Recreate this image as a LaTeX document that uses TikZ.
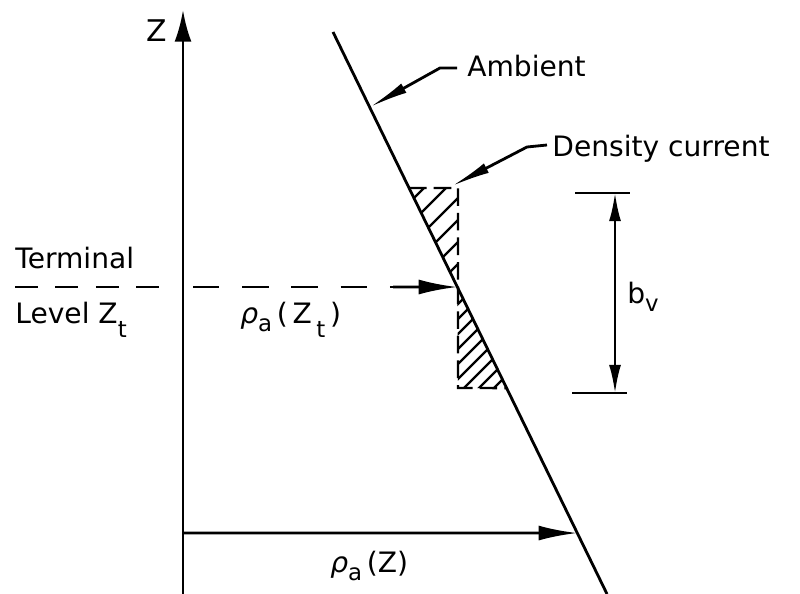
\documentclass[tikz,border=0pt]{standalone}
\usepackage{fontspec}
\setmainfont{DejaVu Sans}
\usepackage{tikz}
\usetikzlibrary{arrows.meta,calc}

\newcommand{\lowsub}[2][0.4em]{\raisebox{-#1}{\fontsize{13}{14}\selectfont #2}}
\newcommand{\rhoa}{{\itshape ρ}\lowsub[0.3em]{a}}

\begin{document}
\begin{tikzpicture}[
  x=0.02cm, y=-0.02cm,
  every node/.style={font=\fontsize{16}{18}\selectfont, inner sep=0pt},
  thk/.style={line width=1.6pt},
  axisarr/.style={thk, -{Latex[length=18pt,width=9.6pt]}},
  leadarr/.style={thk, -{Latex[length=22pt,width=6pt]}},
  levelarr/.style={thk, -{Latex[length=22pt,width=8.5pt]}},
  dimarr/.style={line width=1.3pt, {Latex[length=16pt,width=6.8pt]}-{Latex[length=16pt,width=6.8pt]}},
  termdash/.style={thk, dash pattern=on 13pt off 10pt},
  boxdash/.style={line width=1.4pt, dash pattern=on 10pt off 4pt},
  hatch/.style={line width=1.3pt},
]
\useasboundingbox (0,0) rectangle (800,594);

% axis and ambient profile
\coordinate (O) at (183,594);
\coordinate (Ztop) at (183,10);
\coordinate (amb1) at (333,32);
\coordinate (amb2) at (607,594);
\draw[axisarr] (O) -- (Ztop);
\draw[thk] (amb1) -- (amb2);
\node[anchor=base west, font=\fontsize{17}{18}\selectfont] (zlab) at (146,42) {Z};

% terminal level
\coordinate (tl) at (15,287);
\coordinate (tm) at (170,287);
\coordinate (tm2) at (193,287);
\coordinate (ta) at (393,287);
\coordinate (zt) at (intersection of amb1--amb2 and tl--ta);
\draw[termdash] (tl) -- (tm);
\draw[termdash, dash pattern=on 15pt off 13pt] (tm2) -- (ta);
\draw[levelarr] (ta) -- (zt);
\node[anchor=base west] (term) at (15,269) {Terminal};
\node[anchor=base west] (level) at (15,323) {Level Z\lowsub[0.5em]{t}};
\node[anchor=base west] (rhozt) at (240,323) {\rhoa\,(\,Z\,\lowsub[0.5em]{t}\,)};

% density current box
\coordinate (bt2) at (458,188);
\coordinate (bb1) at (458,388);
\coordinate (bt1) at (intersection of amb1--amb2 and bt2--{(300,188)});
\coordinate (bb2) at (intersection of amb1--amb2 and bb1--{(600,388)});
\begin{scope}
  \clip (bt1) -- (bt2) -- (zt) -- cycle;
  \foreach \c in {612,634,...,750}
    \draw[hatch] ({\c-150},150) -- ({\c-450},450);
\end{scope}
\begin{scope}
  \clip (zt) -- (bb1) -- (bb2) -- cycle;
  \foreach \c in {762,777,...,895}
    \draw[hatch] ({\c-250},250) -- ({\c-450},450);
\end{scope}
\draw[boxdash] (bt1) -- (bt2) -- (bb1) -- (bb2);

% labels with leaders
\coordinate (ambL) at (457,68);
\coordinate (ambK) at (440,68);
\coordinate (ambT) at (370,107);
\draw[leadarr] (ambL) -- (ambK) -- (ambT);
\node[anchor=base west] (amb) at (467,77) {Ambient};

\coordinate (dcL) at (547,145);
\coordinate (dcK) at (527,147);
\coordinate (dcT) at (452,186);
\draw[leadarr] (dcL) -- (dcK) -- (dcT);
\node[anchor=base west] (dc) at (552,157) {Density current};

% thickness b_v
\coordinate (bvT1) at (575,193);
\coordinate (bvT2) at (630,193);
\coordinate (bvB1) at (572,393);
\coordinate (bvB2) at (627,393);
\draw[thk] (bvT1) -- (bvT2);
\draw[thk] (bvB1) -- (bvB2);
\draw[dimarr] (615,193) -- (615,393);
\node[anchor=base west] (bv) at (627,303) {b\lowsub[0.3em]{v}};

% ambient density at Z
\coordinate (rl) at (183,533);
\coordinate (rr) at (700,533);
\coordinate (rb) at (intersection of amb1--amb2 and rl--rr);
\draw[levelarr] (rl) -- (rb);
\node[anchor=base west] (rhoz) at (330,572) {\rhoa\,(Z)};

\end{tikzpicture}
\end{document}
